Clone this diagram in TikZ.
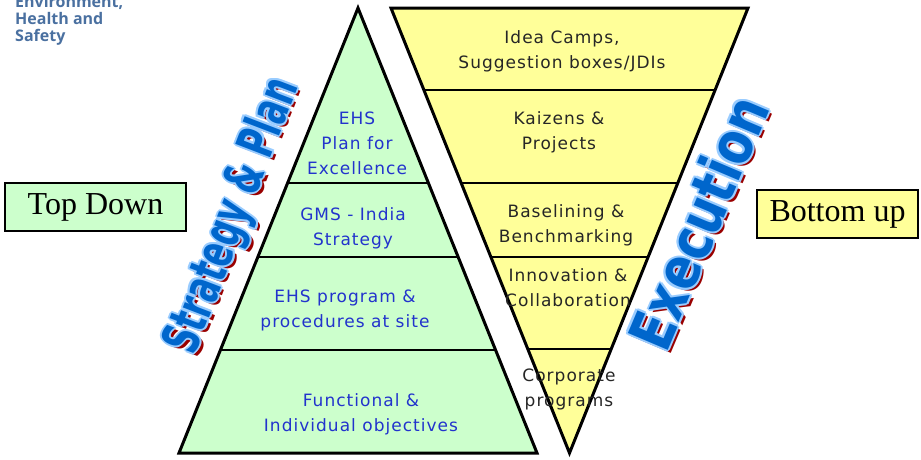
\documentclass[tikz,border=0pt]{standalone}
\usepackage{fontspec}
\usepackage{graphicx}
\setmainfont{DejaVu Sans}
\newfontfamily\boxfont{Liberation Serif}
\newfontfamily\logofont{Open Sans}
\newfontfamily\artfont{DejaVu Sans}

\definecolor{planGreen}{RGB}{204,255,204}
\definecolor{execYellow}{RGB}{255,255,153}
\definecolor{planBlue}{RGB}{34,51,204}
\definecolor{artBlue}{RGB}{0,102,204}
\definecolor{artEdge}{RGB}{153,204,255}
\definecolor{artShadow}{RGB}{153,0,0}
\definecolor{logoBlue}{RGB}{74,112,160}

\tikzset{
  layerText/.style={align=center, inner sep=0pt,
    font=\fontsize{17}{25}\selectfont\addfontfeature{LetterSpace=6}},
  planText/.style={layerText, text=planBlue},
  execText/.style={layerText, text=black!85},
  sideBox/.style={draw=black, line width=2.5pt, inner sep=0pt,
    minimum height=48pt, font=\boxfont\fontsize{32}{34}\selectfont},
  artText/.style={inner sep=0pt, font=\artfont\bfseries},
}

% WordArt: name, x, y, angle, width, height, text
\newcommand{\wordart}[7]{%
  \node[artText, text=artShadow, rotate=#4] (#1-shadow) at ({#2+3.5},{#3+3}) {\resizebox*{#5pt}{#6pt}{#7}};
  \foreach \dx/\dy [count=\k] in {-2/0,2/0,0/-2,0/2,-1.4/-1.4,1.4/1.4,-1.4/1.4,1.4/-1.4}
    \node[artText, text=artEdge, rotate=#4] (#1-edge\k) at ({#2+\dx},{#3+\dy}) {\resizebox*{#5pt}{#6pt}{#7}};
  \node[artText, text=artBlue, rotate=#4] (#1) at (#2,#3) {\resizebox*{#5pt}{#6pt}{#7}};
}

\begin{document}
\begin{tikzpicture}[x=1pt, y=-1pt, line join=miter]
  \useasboundingbox (0,0) rectangle (921,459);

  % Pyramid (strategy)
  \draw[fill=planGreen, line width=3pt] (358,8) -- (537,453) -- (179,453) -- cycle;
  \foreach \y in {183,257,350}
    \draw[line width=2.5pt] ({358-(\y-8)*0.4022},\y) -- ({358+(\y-8)*0.4022},\y);

  % Funnel (execution)
  \draw[fill=execYellow, line width=3pt] (391,8) -- (748,8) -- (569.5,453) -- cycle;
  \foreach \y in {90,183,257,349}
    \draw[line width=2.5pt] ({391+(\y-8)*0.4022},\y) -- ({748-(\y-8)*0.4022},\y);

  % Logo
  \node[anchor=north west, align=left, inner sep=0pt, text=logoBlue,
    font=\logofont\bfseries\fontsize{16}{17}\selectfont] (ehsLogo) at (15,-5)
    {Environment,\\Health and\\Safety};

  % Pyramid layers
  \node[planText] (ehsPlan) at (357,143) {EHS\\Plan for\\Excellence};
  \node[planText] (gmsIndia) at (353,228) {GMS - India\\Strategy};
  \node[planText] (ehsProgram) at (345,310) {EHS program \&\\procedures at site};
  \node[planText] (objectives) at (361,414) {Functional \&\\Individual objectives};

  % Funnel layers
  \node[execText] (ideaCamps) at (562,51) {Idea Camps,\\Suggestion boxes/JDIs};
  \node[execText] (kaizens) at (559,132) {Kaizens \&\\Projects};
  \node[execText] (baselining) at (566,225) {Baselining \&\\Benchmarking};
  \node[execText] (innovation) at (568,288) {Innovation \&\\Collaboration};
  \node[execText] (corporate) at (569,389) {Corporate\\programs};

  % Side boxes
  \node[sideBox, fill=planGreen, minimum width=181pt] (topDown) at (95.5,207) {Top Down};
  \node[sideBox, fill=execYellow, minimum width=161pt] (bottomUp) at (837.5,214) {Bottom up};

  % WordArt titles
  \wordart{strategy}{233.5}{216}{69}{290}{50}{Strategy \& Plan}
  \wordart{execution}{698}{222}{67}{268}{46}{Execution}
\end{tikzpicture}
\end{document}
